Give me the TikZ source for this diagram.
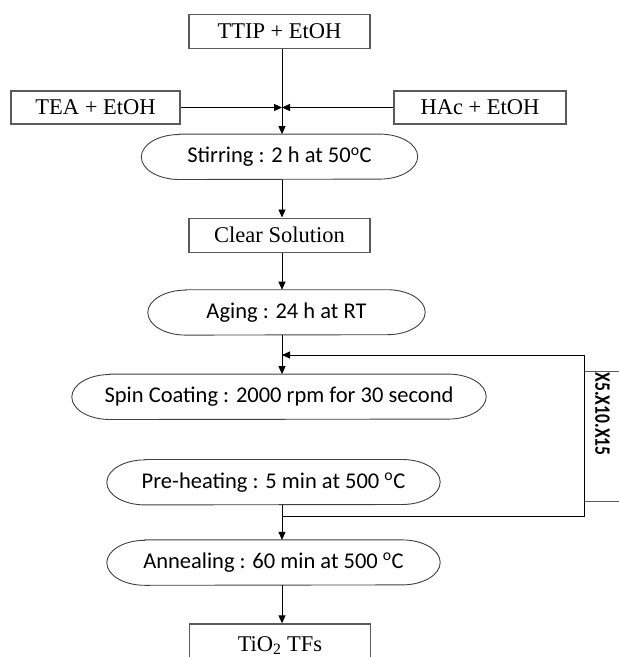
\documentclass[tikz,border=0pt]{standalone}
\usepackage{fontspec}
\setmainfont{Liberation Serif}
\newfontfamily\calfont{Carlito}
\usetikzlibrary{arrows.meta,positioning,calc}
\definecolor{boxrule}{HTML}{5A5A5A}
\definecolor{procrule}{HTML}{404040}

\begin{document}
\begin{tikzpicture}[
  x=1pt, y=1pt,
  font=\fontsize{22.5}{26}\selectfont,
  box/.style={draw=boxrule, line width=1.2pt, minimum width=181pt,
              minimum height=34pt, inner sep=0pt},
  proc/.style={minimum height=45pt, inner sep=0pt,
               font=\calfont\fontsize{22.5}{26}\selectfont},
  procline/.style={draw=procrule, line width=0.9pt},
  flow/.style={-{Triangle[length=8pt,width=7pt]}, line width=0.9pt},
  reptxt/.style={font=\calfont\bfseries\fontsize{22}{24}\selectfont,
                 inner sep=0pt, rotate=-90, xscale=0.8},
]
\useasboundingbox (0,0) rectangle (619,-657);

\coordinate (spine) at (282,0);

\node[box] (ttip) at (279.5,-31.5) {TTIP + EtOH};
\node[box, minimum width=169pt, minimum height=33pt] (tea) at (95.5,-107.5) {TEA + EtOH};
\node[box, minimum width=172pt, minimum height=33pt] (hac) at (480,-107.5) {HAc + EtOH};

\node[proc, minimum width=276pt, below=85pt of ttip] (stir)
  {Stirring : 2 h at 50\textsuperscript{o}C};
\node[box, below=38pt of stir] (clear) {Clear Solution};
\node[proc, minimum width=277pt, below=37pt of clear, xshift=7pt] (aging)
  {Aging : 24 h at RT};
\node[proc, minimum width=414pt, below=39pt of aging, xshift=-7.5pt] (spin)
  {Spin Coating : 2000 rpm for 30 second};
\node[proc, minimum width=333pt, below=40pt of spin, xshift=-5.5pt] (preheat)
  {Pre-heating : 5 min at 500 \textsuperscript{o}C};
\node[proc, minimum width=333pt, below=35pt of preheat] (anneal)
  {Annealing : 60 min at 500 \textsuperscript{o}C};
\node[box, minimum height=44pt, below=38pt of anneal, xshift=6.5pt] (tio2)
  {\raisebox{4pt}{TiO\textsubscript{2} TFs}};

% oval outlines with elliptic ends
\foreach \n in {stir,aging,spin,preheat,anneal}
  \draw[procline] ($(\n.north west)+(38,0)$) -- ($(\n.north east)+(-38,0)$)
    arc[start angle=90, end angle=-90, x radius=38, y radius=22.5]
    -- ($(\n.south west)+(38,0)$)
    arc[start angle=270, end angle=90, x radius=38, y radius=22.5] -- cycle;

\node[draw=boxrule, line width=1pt, minimum width=70pt, minimum height=130pt,
      anchor=north west] (reps) at (584,-371) {};
\node[reptxt] (repstxt) at (602.5,-414) {X5.X10.X15};

\coordinate (loopin) at (282,-355);
\coordinate (loopout) at (282,-516);

\draw[flow] (ttip.south -| spine) -- (stir.north -| spine);
\draw[flow] (tea) -- (tea -| spine);
\draw[flow] (hac) -- (hac -| spine);
\draw[flow] (stir.south -| spine) -- (clear.north -| spine);
\draw[flow] (clear.south -| spine) -- (aging.north -| spine);
\draw[flow] (aging.south -| spine) -- (spin.north -| spine);
\draw[line width=0.9pt] (preheat.south -| spine) -- (loopout);
\draw[flow] (loopout) -- (anneal.north -| spine);
\draw[flow] (loopout) -- (loopout -| reps.west) |- (loopin);
\draw[flow] (anneal.south -| spine) -- (tio2.north -| spine);

\end{tikzpicture}
\end{document}
